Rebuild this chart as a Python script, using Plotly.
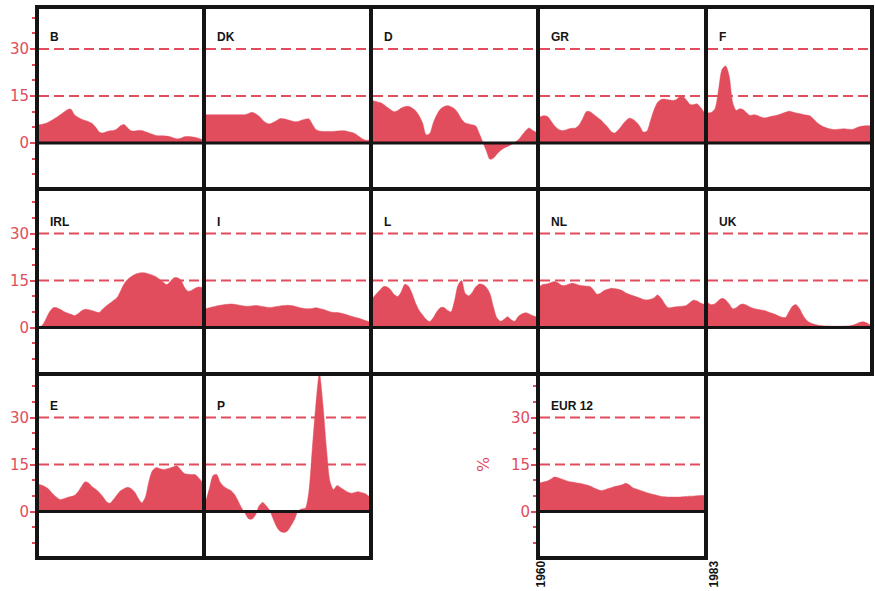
import plotly.graph_objects as go

# Half-year sampling points, 1960 .. 1983
YEARS = [1960 + 0.5 * k for k in range(47)]

B = [5.8, 6.0, 6.3, 6.9, 7.5, 8.2, 9.0, 9.8, 10.6, 10.8,
     9.0, 8.2, 7.6, 7.2, 6.8, 6.2, 5.0, 3.5, 3.2, 3.6,
     3.9, 4.0, 4.5, 5.5, 5.9, 4.8, 3.9, 3.8, 4.0, 4.0,
     3.6, 3.2, 2.8, 2.4, 2.3, 2.3, 2.2, 2.0, 1.6, 1.3,
     1.5, 2.0, 2.1, 2.0, 1.8, 1.5, 1.1]
DK = [9.0, 9.0, 9.0, 9.0, 9.0, 9.0, 9.0, 9.0, 9.0, 9.0,
      9.0, 9.0, 9.4, 9.8, 9.3, 8.5, 7.3, 6.4, 6.1, 6.6,
      7.2, 7.8, 7.7, 7.4, 7.1, 6.8, 6.9, 7.3, 7.6, 7.7,
      6.0, 4.3, 3.8, 3.7, 3.7, 3.7, 3.7, 3.8, 3.9, 3.9,
      3.7, 3.4, 3.0, 2.2, 1.4, 0.9, 0.9]
D = [13.5, 13.2, 12.9, 12.3, 11.4, 10.6, 10.0, 10.4, 11.2, 11.6,
     11.7, 11.2, 10.3, 8.7, 6.4, 2.6, 3.0, 6.4, 9.0, 10.8,
     11.6, 11.9, 11.6, 10.9, 9.5, 7.6, 6.4, 6.1, 5.8, 5.4,
     3.0, 0.2, -2.5, -5.2, -4.8, -3.5, -2.4, -1.6, -1.1, -0.5,
     0.2, 1.0, 2.4, 3.8, 4.8, 4.1, 3.4]
GR = [8.3, 8.7, 8.5, 7.2, 5.6, 4.5, 4.0, 4.1, 4.5, 4.7,
      4.8, 5.8, 7.8, 10.0, 10.0, 9.2, 8.3, 7.4, 6.2, 5.0,
      3.6, 3.2, 4.2, 5.6, 7.0, 7.9, 7.6, 6.7, 5.3, 3.5,
      3.8, 7.2, 10.6, 13.0, 13.9, 14.0, 13.8, 13.6, 13.7, 14.6,
      14.9, 13.8, 12.4, 12.2, 12.5, 11.4, 9.8]
F = [9.6, 9.8, 11.0, 17.0, 23.5, 24.6, 21.5, 13.0, 10.4, 10.9,
     10.6, 9.6, 8.8, 9.0, 8.8, 8.3, 8.0, 8.2, 8.5, 8.7,
     9.0, 9.4, 9.8, 10.1, 9.9, 9.6, 9.4, 9.1, 8.9, 8.6,
     7.6, 6.5, 5.7, 5.1, 4.7, 4.4, 4.3, 4.4, 4.5, 4.5,
     4.4, 4.3, 4.8, 5.2, 5.4, 5.5, 5.5]
IRL = [0.0, 0.8, 2.8, 5.0, 6.3, 6.3, 5.8, 5.1, 4.6, 4.2,
       3.8, 4.4, 5.3, 5.8, 5.7, 5.4, 5.0, 4.8, 5.9, 6.9,
       7.7, 8.6, 9.5, 11.6, 13.9, 15.3, 16.2, 16.9, 17.3, 17.5,
       17.4, 17.1, 16.7, 16.2, 15.4, 14.5, 13.7, 14.6, 15.8, 15.9,
       15.2, 12.9, 11.6, 11.8, 12.5, 12.9, 12.8]
I = [6.0, 6.3, 6.6, 6.9, 7.1, 7.3, 7.4, 7.5, 7.4, 7.2,
     7.0, 6.8, 6.8, 6.9, 7.0, 6.9, 6.7, 6.5, 6.4, 6.5,
     6.7, 6.9, 7.0, 7.1, 7.0, 6.8, 6.5, 6.2, 6.0, 6.0,
     6.1, 6.3, 6.1, 5.8, 5.4, 5.0, 4.8, 4.8, 4.6, 4.3,
     4.0, 3.6, 3.3, 3.0, 2.6, 2.2, 1.8]
L = [9.5, 10.8, 12.0, 13.1, 12.9, 12.0, 10.5, 9.9, 11.5, 13.8,
     13.2, 10.9, 7.8, 5.5, 4.0, 2.6, 1.9, 3.1, 5.0, 6.3,
     6.4, 5.5, 5.0, 8.5, 13.5, 15.0, 10.9, 10.1, 11.2, 13.0,
     13.9, 13.7, 12.8, 10.8, 6.5, 3.0, 2.0, 2.6, 3.4, 2.5,
     2.0, 3.5, 4.3, 4.7, 4.4, 3.8, 3.4]
NL = [13.2, 13.8, 13.9, 14.3, 14.7, 14.3, 13.5, 13.4, 13.8, 14.1,
      13.9, 13.5, 13.3, 13.2, 13.1, 12.0, 10.6, 11.0, 11.8, 12.2,
      12.5, 12.4, 12.2, 11.8, 11.1, 10.6, 10.2, 9.8, 9.4, 8.9,
      8.8, 9.0, 9.5, 10.4, 9.3, 7.5, 6.3, 6.4, 6.6, 6.7,
      6.8, 7.0, 7.9, 8.7, 8.5, 7.8, 7.4]
UK = [7.8, 7.3, 7.6, 8.6, 9.3, 8.8, 7.5, 6.0, 6.3, 7.2,
      7.5, 7.1, 6.5, 6.1, 5.8, 5.6, 5.4, 5.0, 4.6, 4.2,
      3.7, 3.3, 3.2, 5.0, 6.8, 7.3, 6.0, 3.8, 2.3, 1.5,
      1.1, 0.8, 0.6, 0.5, 0.5, 0.4, 0.4, 0.4, 0.4, 0.5,
      0.5, 0.7, 1.1, 1.6, 1.8, 1.5, 0.8]
E = [8.6, 8.3, 7.7, 6.8, 5.5, 4.5, 3.8, 4.1, 4.5, 4.8,
     5.1, 6.3, 8.0, 9.5, 9.1, 7.9, 7.1, 6.1, 4.8, 3.2,
     2.6, 3.8, 5.3, 6.6, 7.3, 7.7, 7.3, 6.2, 4.2, 2.8,
     4.5, 9.5, 13.0, 14.0, 13.7, 13.4, 13.6, 13.9, 14.3, 14.5,
     13.3, 12.1, 11.9, 11.8, 11.8, 10.8, 9.5]
P = [3.5, 7.5, 11.5, 11.8, 9.3, 8.0, 7.3, 6.7, 5.5, 3.5,
     1.2, -0.5, -2.3, -2.4, -1.0, 1.8, 2.9, 1.8, 0.3, -2.5,
     -5.0, -6.4, -6.7, -6.2, -4.5, -2.5, 0.2, 0.8, 1.0, 6.0,
     20.0, 34.0, 44.0, 34.0, 20.0, 9.5, 7.0, 8.3, 7.6, 6.9,
     6.2, 5.8, 6.1, 6.3, 6.0, 5.7, 4.8]
EUR12 = [9.1, 9.4, 9.7, 10.3, 11.0, 10.8, 10.4, 10.0, 9.6, 9.4,
         9.2, 9.0, 8.8, 8.5, 8.1, 7.6, 7.1, 6.7, 6.9, 7.3,
         7.6, 8.0, 8.2, 8.5, 9.0, 8.5, 7.6, 7.2, 6.8, 6.4,
         6.0, 5.7, 5.4, 5.1, 4.8, 4.7, 4.6, 4.6, 4.6, 4.6,
         4.7, 4.8, 4.9, 4.9, 5.0, 5.1, 5.1]

PANELS = [("B", B), ("DK", DK), ("D", D), ("GR", GR), ("F", F),
          ("IRL", IRL), ("I", I), ("L", L), ("NL", NL), ("UK", UK),
          ("E", E), ("P", P), ("EUR 12", EUR12)]
# (row, column) of each small multiple in the grid
CELLS = {"B": (0, 0), "DK": (0, 1), "D": (0, 2), "GR": (0, 3), "F": (0, 4),
         "IRL": (1, 0), "I": (1, 1), "L": (1, 2), "NL": (1, 3), "UK": (1, 4),
         "E": (2, 0), "P": (2, 1), "EUR 12": (2, 3)}
Y_TICKS = [0, 15, 30]
GUIDES = [15, 30]

# page geometry (pixels)
W, H = 875, 591
COL_EDGES = [37, 204, 371, 538, 706, 872]
ROW_EDGES = [(7, 189), (189, 374), (374, 558)]
ZERO_Y = [143, 327.5, 511.5]
PX_PER_UNIT = 47 / 15
LW = 4
RED = "#E14D5C"
INK = "#141414"

fig = go.Figure()
layout_axes = {}
shapes = []
annotations = []

for n, (name, vals) in enumerate(PANELS, start=1):
    r, c = CELLS[name]
    sfx = "" if n == 1 else str(n)
    xr, yr = "x" + sfx, "y" + sfx
    left = COL_EDGES[c] + LW / 2
    right = COL_EDGES[c + 1] - LW / 2
    top = ROW_EDGES[r][0] + LW / 2
    bottom = ROW_EDGES[r][1] - LW / 2
    z = ZERO_Y[r]
    ymax = (z - top) / PX_PER_UNIT
    ymin = -(bottom - z) / PX_PER_UNIT
    with_ticks = (c == 0) or name == "EUR 12"

    fig.add_trace(go.Scatter(
        x=YEARS, y=vals, xaxis=xr, yaxis=yr, mode="lines",
        fill="tozeroy", fillcolor=RED,
        line=dict(color=RED, width=0.5, shape="spline", smoothing=0.8),
        hoverinfo="skip", showlegend=False))

    layout_axes["xaxis" + sfx] = dict(
        domain=[left / W, right / W], range=[1960, 1983], anchor=yr,
        showline=True, linewidth=LW, linecolor=INK, mirror=True,
        showgrid=False, zeroline=False, showticklabels=False, ticks="",
        fixedrange=True)
    yax = dict(
        domain=[1 - bottom / H, 1 - top / H], range=[ymin, ymax], anchor=xr,
        showline=True, linewidth=LW, linecolor=INK, mirror=True,
        showgrid=False, zeroline=False, fixedrange=True,
        tickmode="array", tickvals=Y_TICKS,
        showticklabels=with_ticks)
    if with_ticks:
        yax.update(ticks="outside", ticklen=5, tickwidth=1.5, tickcolor=RED,
                   ticklabelstandoff=-2,
                   tickfont=dict(family="DejaVu Sans", size=15, color=RED),
                   minor=dict(tick0=0, dtick=5, ticks="outside", ticklen=3,
                              tickwidth=1.5, tickcolor=RED))
    else:
        yax.update(ticks="")
    layout_axes["yaxis" + sfx] = yax

    for g in GUIDES:
        shapes.append(dict(type="line", xref=xr + " domain", yref=yr,
                           x0=0, x1=1, y0=g, y1=g, layer="below",
                           line=dict(color=RED, width=2, dash="10px,5px")))
    shapes.append(dict(type="line", xref=xr + " domain", yref=yr,
                       x0=0, x1=1, y0=0, y1=0, layer="above",
                       line=dict(color=INK, width=3)))

    annotations.append(dict(
        x=1960, y=33.8, xref=xr, yref=yr, xshift=9, xanchor="left",
        yanchor="middle", showarrow=False, text=name,
        font=dict(family="Liberation Sans", size=12, color=INK, weight="bold")))

    if name == "EUR 12":
        for yr_lbl, shift in ((1960, 0), (1983, 9)):
            annotations.append(dict(
                x=yr_lbl, y=1 - 559 / H, xref=xr, yref="paper", xshift=shift,
                xanchor="center", yanchor="top", textangle=-90,
                showarrow=False, text=str(yr_lbl),
                font=dict(family="Liberation Sans", size=12, color=INK,
                          weight="bold")))
        annotations.append(dict(
            x=483 / W, y=1 - 465 / H, xref="paper", yref="paper",
            xanchor="center", yanchor="middle", textangle=-90,
            showarrow=False, text="%",
            font=dict(family="DejaVu Sans", size=16, color=RED)))

fig.update_layout(
    width=W, height=H, margin=dict(l=0, r=0, t=0, b=0),
    paper_bgcolor="white", plot_bgcolor="rgba(0,0,0,0)",
    showlegend=False, shapes=shapes, annotations=annotations,
    **layout_axes)

fig.write_html("out.html")
